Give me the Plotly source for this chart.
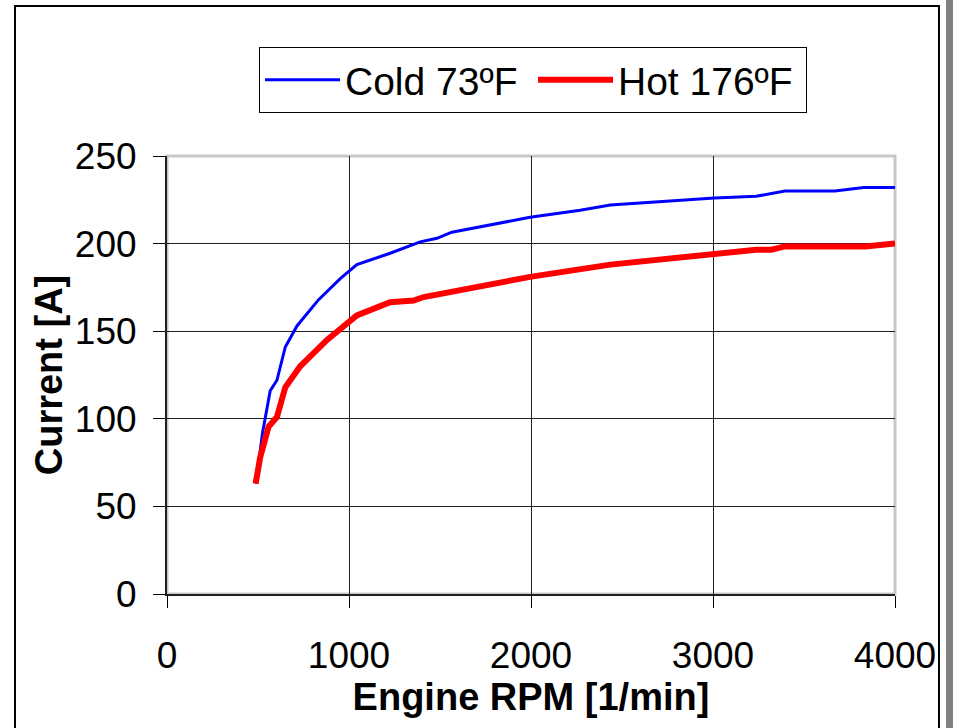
import plotly.graph_objects as go

# Data
cold_rpm = [489, 525, 567, 604, 650, 714, 833, 952, 1043, 1226, 1391, 1483, 1565,
            1995, 2270, 2436, 3008, 3238, 3395, 3520, 3670, 3828, 4000]
cold_amp = [63, 92, 116, 122, 141, 153, 168, 180, 188, 194.5, 201, 203, 206.5,
            215, 219, 222, 226, 227, 230, 230, 230, 232, 232]

hot_rpm = [487, 512, 558, 604, 650, 732, 879, 1043, 1226, 1355, 1410, 1995, 2436,
           3008, 3155, 3238, 3321, 3395, 3837, 4000]
hot_amp = [63, 78, 95.5, 101, 118, 130, 145, 159, 166.5, 167.5, 169.5, 181, 188,
           194, 195, 196.5, 196.5, 198.4, 198.4, 200]

x_ticks = [0, 1000, 2000, 3000, 4000]
y_ticks = [0, 50, 100, 150, 200, 250]

FONT = "Liberation Sans, Arial, sans-serif"

fig = go.Figure()
fig.add_trace(go.Scatter(x=cold_rpm, y=cold_amp, mode="lines", name="Cold 73\u00baF",
                         line=dict(color="#0000FF", width=3)))
fig.add_trace(go.Scatter(x=hot_rpm, y=hot_amp, mode="lines", name="Hot 176\u00baF",
                         line=dict(color="#FF0000", width=6)))

fig.update_layout(
    width=953, height=728,
    margin=dict(l=167, r=58, t=156, b=134),
    paper_bgcolor="white", plot_bgcolor="white",
    font=dict(family=FONT, color="black", size=37),
    showlegend=True,
    legend=dict(orientation="h", x=0.1264, y=1.2489, xanchor="left", yanchor="top",
                bordercolor="black", borderwidth=1, bgcolor="white",
                font=dict(size=39, family=FONT), itemwidth=75,
                entrywidth=183, entrywidthmode="pixels"),
    xaxis=dict(range=[0, 4000], tickvals=x_ticks, ticks="outside", ticklen=12,
               tickcolor="black", showgrid=True, gridcolor="#202020", gridwidth=1,
               showline=True, linecolor="#202020", linewidth=2, zeroline=False,
               tickfont=dict(size=37), ticklabelstandoff=16,
               title=dict(text="<b>Engine RPM [1/min]</b>", font=dict(size=38), standoff=0)),
    yaxis=dict(range=[0, 250], tickvals=y_ticks, ticks="outside", ticklen=12,
               tickcolor="black", showgrid=True, gridcolor="#202020", gridwidth=1,
               showline=True, linecolor="#202020", linewidth=2, zeroline=False,
               tickfont=dict(size=37), ticklabelstandoff=9,
               title=dict(text="<b>Current [A]</b>", font=dict(size=38), standoff=1)),
    shapes=[
        # light grey plot border (top / right)
        dict(type="rect", xref="paper", yref="paper", x0=0, x1=1, y0=0, y1=1,
             line=dict(color="#C8C8C8", width=3), layer="below"),
        # outer frame
        dict(type="rect", xref="paper", yref="paper", x0=-0.2088, x1=1.0604,
             y0=-0.45, y1=1.3425, line=dict(color="black", width=2), layer="below"),
        # grey bar on right edge
        dict(type="rect", xref="paper", yref="paper", x0=1.0701, x1=1.09,
             y0=-0.45, y1=1.5, line=dict(width=0), fillcolor="#808080", layer="below"),
    ],
)

fig.write_html("out.html", config={"displayModeBar": False},
               post_script="document.body.style.margin='0';document.body.style.overflow='hidden';")
